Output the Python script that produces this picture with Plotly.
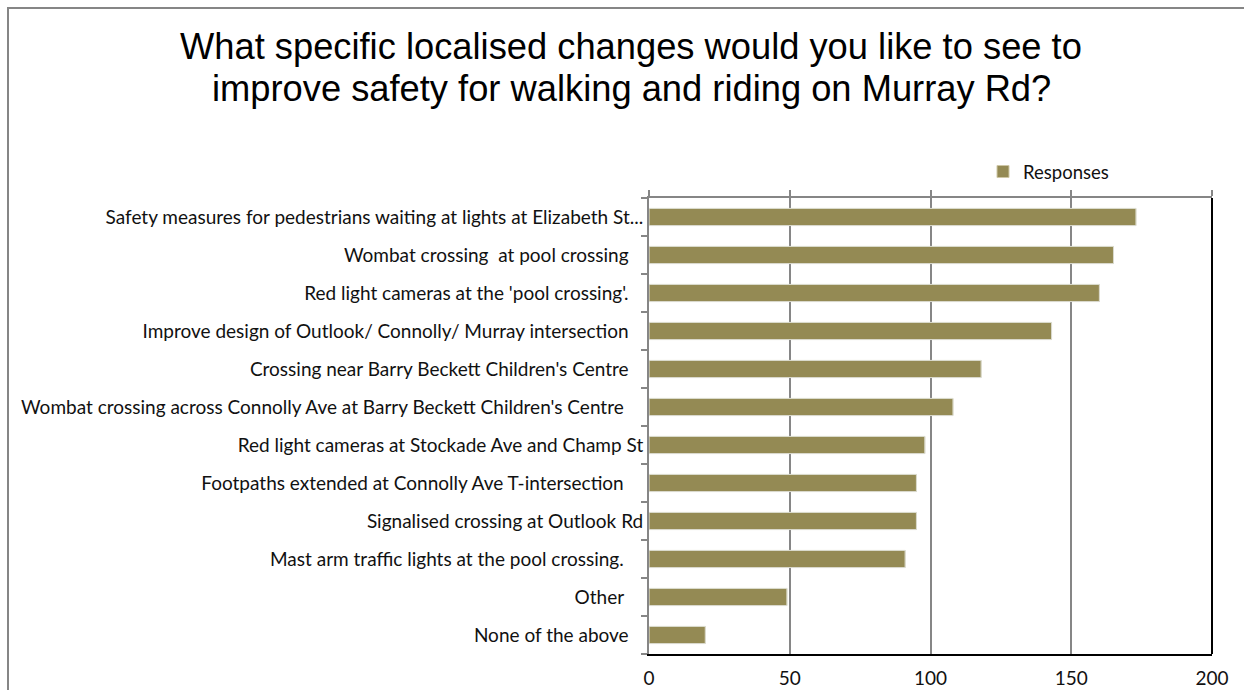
import plotly.graph_objects as go

categories = [
    "Safety measures for pedestrians waiting at lights at Elizabeth St...",
    "Wombat crossing  at pool crossing   ",
    "Red light cameras at the 'pool crossing'.   ",
    "Improve design of Outlook/ Connolly/ Murray intersection   ",
    "Crossing near Barry Beckett Children's Centre   ",
    "Wombat crossing across Connolly Ave at Barry Beckett Children's Centre    ",
    "Red light cameras at Stockade Ave and Champ St",
    "Footpaths extended at Connolly Ave T-intersection    ",
    "Signalised crossing at Outlook Rd",
    "Mast arm traffic lights at the pool crossing.    ",
    "Other    ",
    "None of the above   ",
]
responses = [173, 165, 160, 143, 118, 108, 98, 95, 95, 91, 49, 20]
x_ticks = [0, 50, 100, 150, 200]
series_name = "Responses"
title_lines = ["What specific localised changes would you like to see to",
               "improve safety for walking and riding on Murray Rd?"]

W, H = 1244, 690
L, R, T, B = 649, 1212, 198, 654  # plot area in pixels


def px_x(p):
    return (p - L) / (R - L)


def px_y(p):
    return (B - p) / (B - T)


BAR = "#948A54"
GRID = "#868686"
LABEL_FONT = dict(family="Lato, Calibri, sans-serif", size=19, color="#111111")

ticktext = [c.replace(" ", "\u00a0") for c in categories]

fig = go.Figure()
fig.add_trace(go.Bar(
    y=categories, x=responses, orientation="h", name=series_name,
    marker=dict(color=BAR, line=dict(color="#cfc8a6", width=1)),
    xaxis="x", yaxis="y",
))
# same series on the top axis, only to carry its tick marks
fig.add_trace(go.Bar(
    y=categories, x=responses, orientation="h", name=series_name,
    marker=dict(color="rgba(0,0,0,0)"), showlegend=False, hoverinfo="skip",
    xaxis="x2", yaxis="y",
))

annotations = [
    dict(text=t, xref="paper", yref="paper", x=px_x(631), y=px_y(yc),
         xanchor="center", yanchor="middle", showarrow=False,
         font=dict(family="Liberation Sans, Arial, sans-serif", size=36.3, color="black"))
    for t, yc in zip(title_lines, [47, 88])
]

fig.update_layout(
    width=W, height=H,
    paper_bgcolor="white", plot_bgcolor="white",
    margin=dict(l=L, r=W - R, t=T, b=H - B, autoexpand=False),
    bargap=0.55,
    barmode="overlay",
    annotations=annotations,
    xaxis=dict(
        range=[0, 200], tickvals=x_ticks, ticktext=[str(v) for v in x_ticks],
        showgrid=True, gridcolor=GRID, gridwidth=2,
        showline=True, linecolor="black", linewidth=2,
        ticks="", ticklabelstandoff=6, zeroline=False, automargin=False,
        tickfont=LABEL_FONT, fixedrange=True,
    ),
    xaxis2=dict(
        range=[0, 200], tickvals=x_ticks, overlaying="x", side="top",
        showgrid=False, showline=True, linecolor=GRID, linewidth=2,
        ticks="outside", ticklen=6, tickwidth=2, tickcolor=GRID,
        showticklabels=False, zeroline=False, automargin=False,
    ),
    yaxis=dict(
        categoryorder="array", categoryarray=categories, autorange="reversed",
        tickvals=categories, ticktext=ticktext,
        showline=True, linecolor=GRID, linewidth=2,
        ticks="outside", ticklen=6, tickwidth=2, tickcolor=GRID,
        tickson="boundaries", showgrid=False, automargin=False,
        tickfont=LABEL_FONT, ticklabelstandoff=0,
    ),
    legend=dict(
        x=px_x(983), y=px_y(172), xanchor="left", yanchor="middle",
        font=dict(LABEL_FONT, size=18.5), bgcolor="rgba(0,0,0,0)",
    ),
    showlegend=True,
    shapes=[
        # right black border of plot area
        dict(type="line", xref="x domain", yref="y domain", x0=1, x1=1, y0=0, y1=1,
             line=dict(color="black", width=2)),
        # outer chart frame (left and top visible)
        dict(type="rect", xref="paper", yref="paper",
             x0=px_x(8), x1=px_x(W + 40), y0=px_y(H + 40), y1=px_y(8),
             line=dict(color=GRID, width=2), layer="below"),
    ],
)

fig.write_html(
    "out.html",
    config={"displayModeBar": False},
    post_script="document.body.style.margin='0';document.body.style.overflow='hidden';",
)
